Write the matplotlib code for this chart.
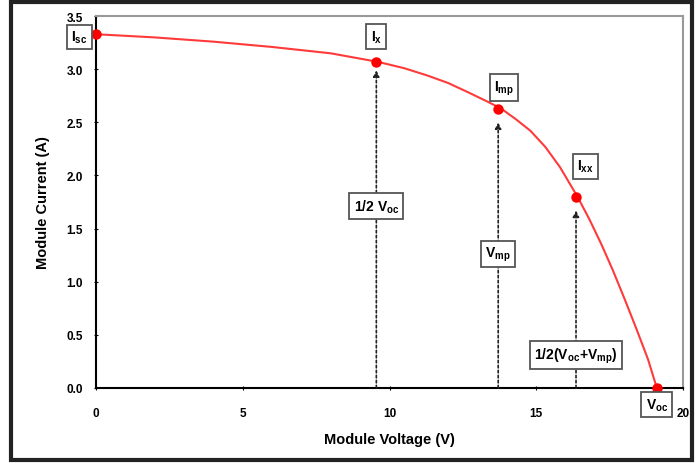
import matplotlib
matplotlib.use("Agg")
import matplotlib.pyplot as plt
from matplotlib.patches import Rectangle

plt.rcParams['font.family'] = ['Liberation Sans', 'DejaVu Sans']
plt.rcParams['mathtext.fontset'] = 'custom'
plt.rcParams['mathtext.rm'] = 'Liberation Sans'
plt.rcParams['mathtext.bf'] = 'Liberation Sans:bold'

# curva I-V
curva_v = [0, 2, 4, 6, 8, 9.6, 10.5, 11.3, 12, 12.7, 13.3, 13.8, 14.3, 14.8, 15.3, 15.8,
           16.4, 16.8, 17.2, 17.6, 18.0, 18.4, 18.8, 19.1]
curva_i = [3.33, 3.30, 3.26, 3.21, 3.15, 3.07, 3.01, 2.94, 2.87, 2.78, 2.70, 2.63, 2.53,
           2.42, 2.27, 2.08, 1.80, 1.59, 1.36, 1.11, 0.84, 0.56, 0.27, 0.0]

# pontos principais
pontos_v = [0, 9.55, 13.7, 16.35, 19.1]
pontos_i = [3.33, 3.07, 2.63, 1.80, 0.0]
rotulos_pontos = [r'I$_{\mathbf{sc}}$', r'I$_{\mathbf{x}}$', r'I$_{\mathbf{mp}}$',
                  r'I$_{\mathbf{xx}}$', r'V$_{\mathbf{oc}}$']
# deslocamento dos rotulos (em pontos)
desloc_rotulos = [(-12, -2), (0, 18), (4, 15), (7, 22), (0, -12)]

# setas verticais
setas_v = [9.55, 13.7, 16.35]
setas_topo = [2.99, 2.50, 1.67]
rotulos_setas = [r'1/2 V$_{\mathbf{oc}}$', r'V$_{\mathbf{mp}}$', r'1/2(V$_{\mathbf{oc}}$+V$_{\mathbf{mp}}$)']
setas_y_rotulo = [1.71, 1.26, 0.31]

fig = plt.figure(figsize=(7, 4.64), dpi=100)
ax = fig.add_axes([0.137, 0.162, 0.839, 0.801])

caixa = dict(boxstyle='square,pad=0.3', fc='white', ec='#555555', lw=1.3)

for x, topo, txt, yr in zip(setas_v, setas_topo, rotulos_setas, setas_y_rotulo):
    ax.annotate('', xy=(x, topo), xytext=(x, 0),
                arrowprops=dict(arrowstyle='-|>', ls=(0, (1.5, 1.5)), color='#222222',
                                lw=1.2, mutation_scale=9, shrinkA=0, shrinkB=0))
    ax.text(x, yr, txt, ha='center', va='center', fontsize=10, fontweight='bold',
            bbox=caixa, zorder=4)

ax.plot(curva_v, curva_i, color='#ff3a3a', lw=1.5, zorder=5)
ax.plot(pontos_v, pontos_i, 'o', color='#ff0000', ms=6.5, zorder=6, clip_on=False)

for x, y, txt, (dx, dy) in zip(pontos_v, pontos_i, rotulos_pontos, desloc_rotulos):
    ax.annotate(txt, xy=(x, y), xytext=(dx, dy), textcoords='offset points',
                ha='center', va='center', fontsize=10, fontweight='bold',
                bbox=caixa, zorder=7, annotation_clip=False)

ax.set_xlim(0, 20)
ax.set_ylim(0, 3.5)
ax.set_xticks([0, 5, 10, 15, 20])
ax.set_yticks([0, 0.5, 1.0, 1.5, 2.0, 2.5, 3.0, 3.5])
ax.set_yticklabels(['0.0', '0.5', '1.0', '1.5', '2.0', '2.5', '3.0', '3.5'])
ax.tick_params(labelsize=8.5, length=3, direction='inout')
ax.tick_params(axis='x', pad=12)
ax.tick_params(axis='y', pad=8)
for lbl in ax.get_xticklabels() + ax.get_yticklabels():
    lbl.set_fontweight('bold')
ax.set_xlabel('Module Voltage (V)', fontsize=10.5, fontweight='bold', labelpad=10)
ax.set_ylabel('Module Current (A)', fontsize=10.5, fontweight='bold', labelpad=12)

ax.spines['left'].set_linewidth(1.5)
ax.spines['bottom'].set_linewidth(1.5)
ax.spines['top'].set_color('#999999')
ax.spines['right'].set_color('#999999')
ax.spines['top'].set_linewidth(1.5)
ax.spines['right'].set_linewidth(1.5)

# moldura externa
fig.patches.append(Rectangle((0.015, 0.007), 0.974, 0.986, transform=fig.transFigure,
                             fill=False, ec='#222222', lw=3))

fig.savefig('out.png', dpi=100)
